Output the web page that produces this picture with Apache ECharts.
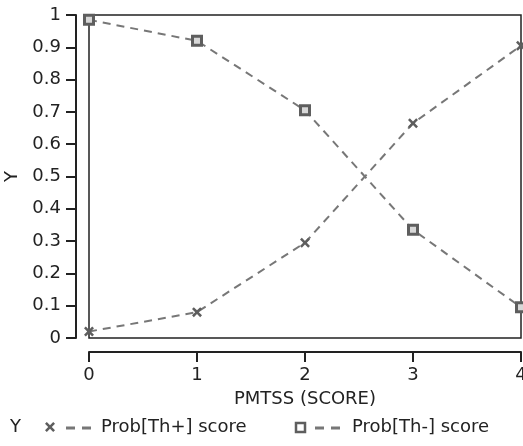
<!DOCTYPE html>
<html>
<head>
<meta charset="utf-8">
<script src="https://cdn.jsdelivr.net/npm/echarts@6/dist/echarts.min.js"></script>
<style>
  html, body { margin: 0; padding: 0; background: #fff; }
  #chart { width: 523px; height: 446px; }
</style>
</head>
<body>
<div id="chart"></div>
<script>
// ========================================
// 数据
// ========================================
const scores = [0, 1, 2, 3, 4];
const probThPlus = [0.02, 0.08, 0.295, 0.665, 0.905];
const probThMinus = [0.985, 0.92, 0.705, 0.335, 0.095];
const yTicks = [0, 0.1, 0.2, 0.3, 0.4, 0.5, 0.6, 0.7, 0.8, 0.9, 1];
const xTicks = [0, 1, 2, 3, 4];

const FONT = 'DejaVu Sans';
const FONT_SIZE = 18;
const LINE_GRAY = '#777';
const MARK_GRAY = '#5e5e5e';

// 叉号标记 (粗 X 多边形)
const crossPath = 'path://M0,1.8 L1.8,0 L5,3.2 L8.2,0 L10,1.8 L6.8,5 L10,8.2 L8.2,10 L5,6.8 L1.8,10 L0,8.2 L3.2,5 Z';

function pairs(xs, ys) {
  return xs.map((x, i) => [x, ys[i]]);
}

// 图例中的叉号 (多边形顶点)
function crossPoints(cx, cy, s) {
  const k = s / 10;
  const pts = [[0,1.8],[1.8,0],[5,3.2],[8.2,0],[10,1.8],[6.8,5],[10,8.2],[8.2,10],[5,6.8],[1.8,10],[0,8.2],[3.2,5]];
  return pts.map(p => [cx - s / 2 + p[0] * k, cy - s / 2 + p[1] * k]);
}

const chart = echarts.init(document.getElementById('chart'));

const option = {
  backgroundColor: '#fff',
  animation: false,
  textStyle: { fontFamily: FONT },
  grid: {
    left: 89,
    right: 2,
    top: 15,
    bottom: 108,
    outerBoundsMode: 'none',
    show: true,
    borderColor: '#222',
    borderWidth: 1.5,
    backgroundColor: 'transparent'
  },
  xAxis: {
    type: 'value',
    min: xTicks[0],
    max: xTicks[xTicks.length - 1],
    interval: 1,
    offset: 14,
    name: 'PMTSS (SCORE)',
    nameLocation: 'middle',
    nameGap: 38,
    nameTextStyle: { color: '#222', fontSize: FONT_SIZE, fontFamily: FONT },
    axisLine: { show: true, onZero: false, lineStyle: { color: '#222', width: 2 } },
    axisTick: { show: true, length: 10, lineStyle: { color: '#222', width: 2 } },
    axisLabel: { color: '#222', fontSize: FONT_SIZE, margin: 14, fontFamily: FONT },
    splitLine: { show: false }
  },
  yAxis: {
    type: 'value',
    min: yTicks[0],
    max: yTicks[yTicks.length - 1],
    interval: 0.1,
    offset: 13,
    name: 'Y',
    nameLocation: 'middle',
    nameGap: 55,
    nameRotate: 90,
    nameTextStyle: { color: '#222', fontSize: FONT_SIZE, fontFamily: FONT },
    axisLine: { show: true, onZero: false, lineStyle: { color: '#222', width: 2 } },
    axisTick: { show: true, length: 10, lineStyle: { color: '#222', width: 2 } },
    axisLabel: { color: '#222', fontSize: FONT_SIZE, margin: 15, fontFamily: FONT },
    splitLine: { show: false }
  },
  series: [
    {
      name: 'Prob[Th+] score',
      type: 'line',
      data: pairs(scores, probThPlus),
      symbol: crossPath,
      symbolSize: 10,
      itemStyle: { color: MARK_GRAY },
      lineStyle: { color: LINE_GRAY, width: 2, type: [8, 6] },
      clip: true
    },
    {
      name: 'Prob[Th-] score',
      type: 'line',
      data: pairs(scores, probThMinus),
      symbol: 'rect',
      symbolSize: 9,
      itemStyle: { color: '#d8d8d8', borderColor: MARK_GRAY, borderWidth: 3 },
      lineStyle: { color: LINE_GRAY, width: 2, type: [8, 6] },
      clip: true
    }
  ],
  // 底部图例 (手动绘制)
  graphic: [
    { type: 'text', left: 10, top: 418, style: { text: 'Y', fontSize: FONT_SIZE, fontFamily: FONT, fill: '#222' } },
    { type: 'polygon', shape: { points: crossPoints(50, 427, 10) }, style: { fill: MARK_GRAY } },
    { type: 'line', shape: { x1: 66, y1: 428, x2: 94, y2: 428 }, style: { stroke: LINE_GRAY, lineWidth: 3, lineDash: [9, 7] } },
    { type: 'text', left: 101, top: 418, style: { text: 'Prob[Th+] score', fontSize: FONT_SIZE, fontFamily: FONT, fill: '#222' } },
    { type: 'rect', shape: { x: 296, y: 423, width: 9, height: 9 }, style: { fill: '#fff', stroke: MARK_GRAY, lineWidth: 2.5 } },
    { type: 'line', shape: { x1: 315, y1: 428, x2: 344, y2: 428 }, style: { stroke: LINE_GRAY, lineWidth: 3, lineDash: [9, 7] } },
    { type: 'text', left: 352, top: 418, style: { text: 'Prob[Th-] score', fontSize: FONT_SIZE, fontFamily: FONT, fill: '#222' } }
  ]
};

chart.setOption(option);
</script>
</body>
</html>
